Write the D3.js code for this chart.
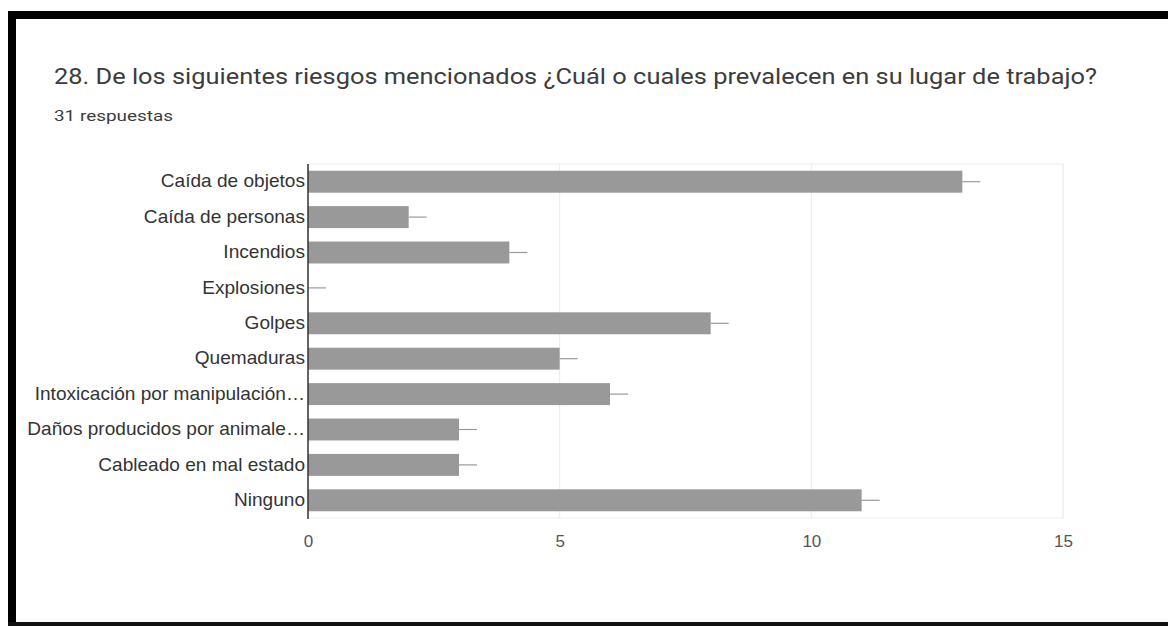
<!DOCTYPE html>
<html>
<head>
<meta charset="utf-8">
<script src="https://cdn.jsdelivr.net/npm/d3@7"></script>
<style>
  body { margin: 0; background: #fff; }
  svg { display: block; }
</style>
</head>
<body>
<svg id="chart" width="1168" height="626"></svg>
<script>
const categories = [
  "Caída de objetos",
  "Caída de personas",
  "Incendios",
  "Explosiones",
  "Golpes",
  "Quemaduras",
  "Intoxicación por manipulación…",
  "Daños producidos por animale…",
  "Cableado en mal estado",
  "Ninguno"
];
const counts = [13, 2, 4, 0, 8, 5, 6, 3, 3, 11];
const xTicks = [0, 5, 10, 15];

const title = "28. De los siguientes riesgos mencionados ¿Cuál o cuales prevalecen en su lugar de trabajo?";
const subtitle = "31 respuestas";

const svg = d3.select("#chart");

// black frame (top, left, bottom only, like the screenshot)
svg.append("rect").attr("x", 8).attr("y", 11).attr("width", 1160).attr("height", 8).attr("fill", "#000");
svg.append("rect").attr("x", 8).attr("y", 11).attr("width", 8).attr("height", 615).attr("fill", "#000");
svg.append("rect").attr("x", 8).attr("y", 622).attr("width", 1160).attr("height", 4).attr("fill", "#111");

// the screenshot is stretched sideways, so fit the texts to the measured widths
svg.append("text")
  .attr("x", 54).attr("y", 84)
  .attr("font-family", "Roboto, sans-serif")
  .attr("font-size", 22.5)
  .attr("fill", "#3c3c3c")
  .attr("textLength", 1043)
  .attr("lengthAdjust", "spacingAndGlyphs")
  .text(title);

svg.append("text")
  .attr("x", 54).attr("y", 121)
  .attr("font-family", "Roboto, sans-serif")
  .attr("font-size", 15.5)
  .attr("fill", "#3c3c3c")
  .attr("textLength", 119)
  .attr("lengthAdjust", "spacingAndGlyphs")
  .text(subtitle);

const m = { left: 308, right: 1063, top: 164, bottom: 518 };

const x = d3.scaleLinear().domain([0, 15]).range([m.left, m.right]);
const y = d3.scaleBand().domain(categories).range([m.top, m.bottom]).paddingInner(0.38).paddingOuter(0.19);

// plot frame + gridlines
const g = svg.append("g");
g.append("rect")
  .attr("x", m.left).attr("y", m.top)
  .attr("width", m.right - m.left).attr("height", m.bottom - m.top)
  .attr("fill", "none").attr("stroke", "#efefef");

g.selectAll("line.grid")
  .data(xTicks.slice(1))
  .join("line")
  .attr("class", "grid")
  .attr("x1", d => x(d)).attr("x2", d => x(d))
  .attr("y1", m.top).attr("y2", m.bottom)
  .attr("stroke", "#ebebeb");

// bars
g.selectAll("rect.bar")
  .data(counts)
  .join("rect")
  .attr("class", "bar")
  .attr("x", x(0))
  .attr("y", (d, i) => y(categories[i]))
  .attr("width", d => x(d) - x(0))
  .attr("height", y.bandwidth())
  .attr("fill", "#999999");

// small stub after each bar
g.selectAll("line.stub")
  .data(counts)
  .join("line")
  .attr("class", "stub")
  .attr("x1", d => x(d)).attr("x2", d => x(d) + 18)
  .attr("y1", (d, i) => y(categories[i]) + y.bandwidth() / 2)
  .attr("y2", (d, i) => y(categories[i]) + y.bandwidth() / 2)
  .attr("stroke", "#9a9a9a").attr("stroke-width", 1.2);

// zero axis
g.append("line")
  .attr("x1", x(0)).attr("x2", x(0))
  .attr("y1", m.top).attr("y2", m.bottom + 1)
  .attr("stroke", "#333").attr("stroke-width", 1.5);

// y labels
const yAxis = g.append("g")
  .attr("transform", `translate(${m.left - 3},0)`)
  .call(d3.axisLeft(y).tickSize(0).tickPadding(0));
yAxis.select(".domain").remove();
yAxis.selectAll("text")
  .attr("font-family", "Liberation Sans, Arial, sans-serif")
  .attr("font-size", 17.5)
  .attr("fill", "#333")
  .attr("transform", "scale(1.09,1)");

// x labels
const xAxis = g.append("g")
  .attr("transform", `translate(0,${m.bottom})`)
  .call(d3.axisBottom(x).tickValues(xTicks).tickSize(0).tickPadding(17));
xAxis.select(".domain").remove();
xAxis.selectAll("text")
  .attr("font-family", "Liberation Sans, Arial, sans-serif")
  .attr("font-size", 17)
  .attr("fill", "#555");
</script>
</body>
</html>
